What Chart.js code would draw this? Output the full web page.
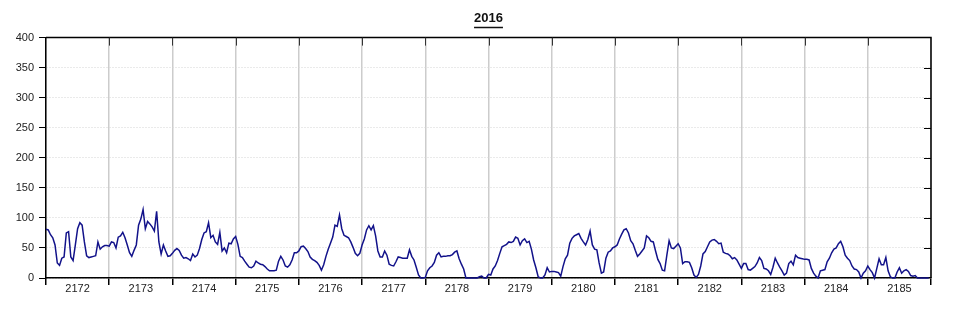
<!DOCTYPE html>
<html>
<head>
<meta charset="utf-8">
<title>2016</title>
<script src="https://cdn.jsdelivr.net/npm/chart.js@4.4.1/dist/chart.umd.min.js"></script>
<style>
  body { margin: 0; background: #fff; }
</style>
</head>
<body>
<canvas id="myChart" width="965" height="320"></canvas>
<script>
// week labels on the x axis
const weeks = ["2172","2173","2174","2175","2176","2177","2178","2179","2180","2181","2182","2183","2184","2185"]

// values per week (28 samples per week)
const w2172 = [81,80,72,67,55,25,21,33,35,75,77,35,29,55,82,92,88,60,37,34,35,36,37,60,48,52,54,54]
const w2173 = [53,60,59,50,68,70,76,67,55,42,36,46,55,88,98,114,82,94,90,85,78,111,60,40,55,45,36,37]
const w2174 = [41,46,49,46,38,33,34,32,29,40,35,38,49,64,75,77,92,67,71,60,56,76,45,50,42,58,57,65]
const w2175 = [69,56,36,34,28,23,18,17,20,28,25,23,22,19,15,12,12,12,13,28,36,30,20,18,22,30,42,42]
const w2176 = [45,52,53,49,44,35,31,29,26,21,13,22,36,48,58,68,88,86,105,82,71,69,67,60,51,41,37,41]
const w2177 = [55,65,80,87,80,87,70,45,35,35,45,38,23,21,20,27,35,34,33,33,33,47,36,30,18,5,0,0]
const w2178 = [1,12,17,20,26,38,42,35,36,36,37,37,39,43,45,32,23,15,0,0,0,0,0,0,2,3,0,0]
const w2179 = [6,5,15,20,29,41,52,54,56,60,59,61,68,66,55,62,65,59,61,48,30,17,2,0,0,5,17,10]
const w2180 = [11,11,10,9,3,19,32,38,58,66,70,72,74,66,60,55,64,78,55,48,47,25,8,10,33,43,45,50]
const w2181 = [52,55,65,73,80,82,75,62,57,46,36,40,45,50,70,67,61,60,45,31,24,13,12,38,62,50,49,53]
const w2182 = [57,50,24,27,27,26,17,5,1,6,20,40,44,52,60,63,64,61,57,58,43,41,40,37,32,34,30,23]
const w2183 = [16,24,24,14,13,16,19,25,34,29,16,15,12,6,18,33,25,18,12,5,8,24,28,22,38,34,33,32]
const w2184 = [31,31,30,16,8,3,0,12,13,14,27,33,42,48,50,57,61,52,38,33,29,20,15,14,10,0,8,12]
const w2185 = [20,14,9,0,16,32,22,22,34,12,2,0,0,10,17,8,12,14,11,4,3,4,0,0,0,0,0,0]

const weekValues = [w2172,w2173,w2174,w2175,w2176,w2177,w2178,w2179,w2180,w2181,w2182,w2183,w2184,w2185]

// y axis
const yMin = 0
const yMax = 400
const yStep = 50

let points = []
weekValues.forEach((arr, w) => {
    arr.forEach((v, i) => {
        points.push({x: w + i / arr.length, y: v})
    })
})

const fontFamily = "'Liberation Sans', Arial, sans-serif"

// frame, inward ticks on top and right, title underline
const frame = {
    id: "frame",
    beforeDatasetsDraw(chart) {
        const {ctx, chartArea: a, scales} = chart
        ctx.save()
        ctx.strokeStyle = "#000"
        ctx.lineWidth = 1.5
        ctx.beginPath()
        ctx.moveTo(a.left, a.top)
        ctx.lineTo(a.right, a.top)
        ctx.lineTo(a.right, a.bottom)
        ctx.stroke()
        ctx.lineWidth = 1
        ctx.strokeStyle = "#333"
        for (let i = 1; i < weeks.length; i++) {
            const x = Math.round(scales.x.getPixelForValue(i)) + 0.5
            ctx.beginPath()
            ctx.moveTo(x, a.top)
            ctx.lineTo(x, a.top + 8)
            ctx.stroke()
        }
        ctx.strokeStyle = "#000"
        for (let v = yMin + yStep; v < yMax; v += yStep) {
            const y = Math.round(scales.y.getPixelForValue(v)) + 0.5
            ctx.beginPath()
            ctx.moveTo(a.right - 7, y)
            ctx.lineTo(a.right, y)
            ctx.stroke()
        }
        ctx.restore()
    },
    afterDraw(chart) {
        const t = chart.titleBlock
        if (!t) return
        const ctx = chart.ctx
        ctx.save()
        ctx.font = "bold 13px " + fontFamily
        const text = chart.options.plugins.title.text
        const w = ctx.measureText(text).width
        const cx = (t.left + t.right) / 2
        ctx.strokeStyle = "#111"
        ctx.lineWidth = 1.5
        ctx.beginPath()
        ctx.moveTo(cx - w / 2, 27.5)
        ctx.lineTo(cx + w / 2, 27.5)
        ctx.stroke()
        ctx.restore()
    }
}

let myChart = new Chart(document.querySelector("#myChart").getContext("2d"), {
    type: "line",
    data: {
        datasets: [{
            label: "2016",
            data: points,
            borderColor: "#12128a",
            borderWidth: 1.5,
            pointRadius: 0,
            tension: 0,
            clip: 3
        }]
    },
    options: {
        responsive: false,
        animation: false,
        layout: {
            padding: {left: 15, right: 34, top: 0, bottom: 22}
        },
        plugins: {
            legend: {display: false},
            tooltip: {enabled: false},
            title: {
                display: true,
                text: "2016",
                fullSize: false,
                color: "#111",
                font: {family: fontFamily, size: 13, weight: "bold"},
                padding: {top: 11, bottom: 11}
            }
        },
        scales: {
            x: {
                type: "linear",
                min: 0,
                max: weeks.length,
                afterFit(scale) { scale.height = 20 },
                ticks: {
                    stepSize: 0.5,
                    autoSkip: false,
                    maxRotation: 0,
                    padding: -3,
                    color: "#222",
                    font: {family: fontFamily, size: 11},
                    callback: (v) => (v % 1 === 0.5) ? weeks[Math.floor(v)] : ""
                },
                grid: {
                    color: (c) => (c.tick && c.tick.value % 1 === 0) ? "#cccccc" : "rgba(0,0,0,0)",
                    lineWidth: 1.5,
                    tickColor: (c) => (c.tick && c.tick.value % 1 === 0) ? "#000" : "rgba(0,0,0,0)",
                    tickLength: 7,
                    tickWidth: 1.5
                },
                border: {color: "#000", width: 1.5}
            },
            y: {
                min: yMin,
                max: yMax,
                afterFit(scale) { scale.width = 31 },
                ticks: {
                    stepSize: yStep,
                    padding: 5,
                    color: "#222",
                    font: {family: fontFamily, size: 11}
                },
                grid: {
                    color: "#d4d4d4",
                    lineWidth: 1,
                    tickColor: "#000",
                    tickLength: 7,
                    tickWidth: 1
                },
                border: {color: "#000", width: 1.5, dash: [1, 2]}
            }
        }
    },
    plugins: [frame]
});
</script>
</body>
</html>
